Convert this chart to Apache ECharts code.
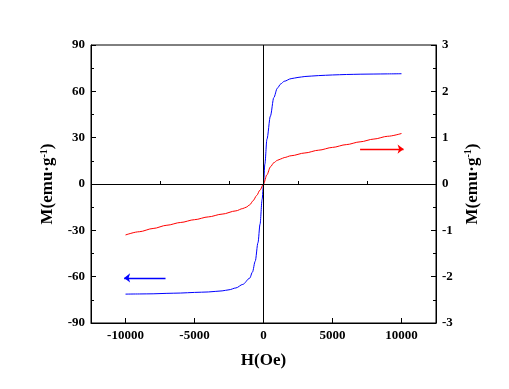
<!DOCTYPE html>
<html>
<head>
<meta charset="utf-8">
<script src="https://cdn.jsdelivr.net/npm/echarts@6/dist/echarts.min.js"></script>
<style>html,body{margin:0;padding:0;background:#fff}#c{width:509px;height:389px}</style>
</head>
<body>
<div id="c"></div>
<script>
// Blue curve (left axis, emu/g)
var blueH = [-10000,-9000,-8000,-7000,-6000,-5000,-4000,-3000,-2500,-2000,-1500,-1000,-800,-600,-400,-250,-100,0,100,250,500,750,1000,1250,1500,2000,2500,3000,4000,5000,6000,7000,8000,9000,10000];
var blueM = [-71.3,-71.2,-71.1,-70.8,-70.6,-70.2,-69.9,-69.2,-68.5,-67.3,-65,-61,-57,-50,-38,-26,-10,0,13,29,44,56,62,64.8,66.5,68.2,69,69.6,70.2,70.6,70.9,71.1,71.2,71.3,71.4];
// Red curve (right axis, emu/g)
var redH = [-10000,-9000,-8000,-7000,-6000,-5000,-4000,-3000,-2000,-1500,-1250,-1000,-750,-500,-250,0,250,500,750,1000,1250,1500,2000,3000,4000,5000,6000,7000,8000,9000,10000];
var redM = [-1.10,-1.03,-0.96,-0.89,-0.83,-0.77,-0.71,-0.65,-0.58,-0.53,-0.50,-0.45,-0.36,-0.25,-0.13,0,0.2,0.37,0.46,0.51,0.54,0.57,0.61,0.67,0.73,0.79,0.85,0.91,0.97,1.03,1.09];
// Arrow annotations
var blueArrow = {from: [-7100, -60.8], to: [-10100, -60.8]};
var redArrow = {from: [7000, 0.754], to: [10150, 0.754]};
// Tick labels
var xMajor = [-10000, -5000, 0, 5000, 10000];
var xMinor = [-7500, -2500, 2500, 7500];

function pairs(a, b) { return a.map(function (v, i) { return [v, b[i]]; }); }

var font = '"Liberation Serif", "Times New Roman", serif';
var lbl = {color: '#000', fontFamily: font, fontWeight: 'bold', fontSize: 13};
var nameStyle = {
  color: '#000', fontFamily: font, fontWeight: 'bold', fontSize: 17,
  rich: {
    b: {fontFamily: font, fontWeight: 'bold', fontSize: 17, color: '#000'},
    sup: {fontFamily: font, fontWeight: 'bold', fontSize: 10, color: '#000', padding: [0, 0, 8, 0]}
  }
};
var axLine = {show: true, onZero: false, lineStyle: {color: '#000', width: 1}};
var plain = function (v) { return String(v); };

var chart = echarts.init(document.getElementById('c'), null, {renderer: 'canvas'});
chart.setOption({
  animation: false,
  backgroundColor: '#fff',
  grid: {left: 91, right: 73, top: 45, bottom: 66, show: true, borderColor: '#000', borderWidth: 1, backgroundColor: 'transparent'},
  xAxis: [{
    type: 'value', min: -12500, max: 12500, position: 'bottom',
    axisLine: axLine, splitLine: {show: false},
    axisTick: {show: true, inside: true, length: 5, customValues: xMajor, lineStyle: {color: '#000'}},
    axisLabel: Object.assign({margin: 6, customValues: xMajor, formatter: plain}, lbl),
    name: 'H(Oe)', nameLocation: 'middle', nameGap: 29, nameTextStyle: nameStyle
  }, {
    type: 'value', min: -12500, max: 12500, position: 'bottom',
    axisLine: {show: false}, splitLine: {show: false},
    axisTick: {show: true, inside: true, length: 3, customValues: xMinor, lineStyle: {color: '#000'}},
    axisLabel: {show: false}
  }],
  yAxis: [{
    type: 'value', min: -90, max: 90, interval: 30, position: 'left',
    axisLine: axLine, splitLine: {show: false},
    axisTick: {show: true, inside: true, length: 5, lineStyle: {color: '#000'}},
    minorTick: {show: true, splitNumber: 2, length: 3, lineStyle: {color: '#000'}},
    minorSplitLine: {show: false},
    axisLabel: Object.assign({margin: 6, formatter: plain}, lbl),
    name: '{b|M(emu·g}{sup|-1}{b|)}', nameLocation: 'middle', nameGap: 34, nameRotate: 90, nameTextStyle: nameStyle
  }, {
    type: 'value', min: -3, max: 3, interval: 1, position: 'right',
    axisLine: axLine, splitLine: {show: false},
    axisTick: {show: true, inside: true, length: 5, lineStyle: {color: '#000'}},
    minorTick: {show: true, splitNumber: 2, length: 3, lineStyle: {color: '#000'}},
    minorSplitLine: {show: false},
    axisLabel: Object.assign({margin: 6, formatter: plain}, lbl),
    name: '{b|M(emu·g}{sup|-1}{b|)}', nameLocation: 'middle', nameGap: 23, nameRotate: 90, nameTextStyle: nameStyle
  }],
  series: [{
    type: 'line', xAxisIndex: 0, yAxisIndex: 0, data: pairs(blueH, blueM),
    showSymbol: false, smooth: 0.3, smoothMonotone: 'x',
    lineStyle: {color: '#0000ff', width: 1}, itemStyle: {color: '#0000ff'}, z: 3,
    markLine: {
      silent: true, animation: false,
      data: [
        [{coord: blueArrow.from, symbol: 'none'}, {coord: blueArrow.to, symbol: 'arrow', symbolSize: [7, 6]}]
      ],
      lineStyle: {color: '#0000ff', width: 1.3, type: 'solid'},
      label: {show: false}
    }
  }, {
    type: 'line', xAxisIndex: 0, yAxisIndex: 1, data: pairs(redH, redM),
    showSymbol: false, smooth: 0.3, smoothMonotone: 'x',
    lineStyle: {color: '#ff0000', width: 1}, itemStyle: {color: '#ff0000'}, z: 4,
    markLine: {
      silent: true, animation: false,
      data: [
        [{coord: redArrow.from, symbol: 'none'}, {coord: redArrow.to, symbol: 'arrow', symbolSize: [7, 6]}]
      ],
      lineStyle: {color: '#ff0000', width: 1.3, type: 'solid'},
      label: {show: false}
    }
  }, {
    type: 'line', xAxisIndex: 0, yAxisIndex: 0, data: [],
    markLine: {
      silent: true, animation: false, symbol: ['none', 'none'],
      data: [{xAxis: 0}, {yAxis: 0}],
      lineStyle: {color: '#000', width: 1, type: 'solid'},
      label: {show: false}
    }
  }]
});
</script>
</body>
</html>
